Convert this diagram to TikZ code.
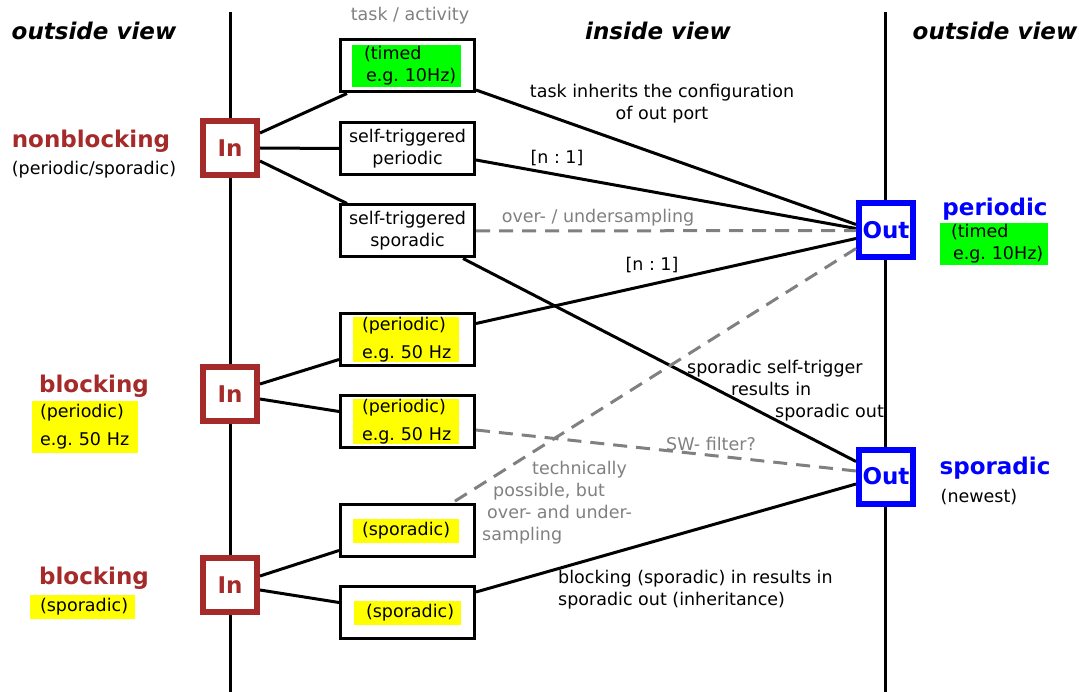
\documentclass[tikz,border=0pt]{standalone}
\usepackage{fontspec}
\setmainfont{DejaVu Sans}
\frenchspacing
\definecolor{inbrown}{RGB}{165,42,42}
\definecolor{outblue}{RGB}{0,0,255}
\definecolor{hlgreen}{RGB}{0,255,0}
\definecolor{hlyellow}{RGB}{255,255,0}
\definecolor{lgray}{RGB}{128,128,128}
\begin{document}
\begin{tikzpicture}[x=1pt,y=-1pt,
  txt/.style={inner sep=0pt, font=\fontsize{17.5}{22}\selectfont},
  gtxt/.style={txt, text=lgray},
  head/.style={inner sep=0pt, font=\fontsize{23}{27}\selectfont\bfseries},
  view/.style={inner sep=0pt, font=\fontsize{23}{27}\selectfont\bfseries\itshape},
  taskbox/.style={draw, line width=3pt, fill=white, minimum width=134pt, minimum height=52pt, inner sep=0pt, txt, align=center},
  portin/.style={draw=inbrown, line width=6pt, fill=white, minimum size=54pt, inner sep=0pt, text=inbrown, font=\fontsize{23}{27}\selectfont\bfseries},
  portout/.style={draw=outblue, line width=6pt, fill=white, minimum size=54pt, inner sep=0pt, text=outblue, font=\fontsize{23}{27}\selectfont\bfseries},
  hl/.style={txt, inner sep=0pt, align=left},
  conn/.style={line width=3pt},
  dconn/.style={line width=3pt, draw=lgray, dash pattern=on 14pt off 9pt},
  axis/.style={line width=3pt}
]
\useasboundingbox (0,0) rectangle (1081,692);
% vertical separators
\coordinate (l1top) at (230,12);
\coordinate (l1bot) at (230,692);
\coordinate (l2top) at (885.5,12);
\coordinate (l2bot) at (885.5,692);
\draw[axis] (l1top) -- (l1bot);
\draw[axis] (l2top) -- (l2bot);

% headers
\node[view] (ovl) at (94,31) {outside view};
\node[view] (ivw) at (658,31) {inside view};
\node[view] (ovr) at (995,31) {outside view};
\node[gtxt] (ta) at (410,16) {task / activity};

% ports
\node[portin] (in1) at (230,148) {In};
\node[portin] (in2) at (230,394) {In};
\node[portin] (in3) at (230,585) {In};
\node[portout] (out1) at (886,230.5) {Out};
\node[portout] (out2) at (886,476.5) {Out};

% task boxes
\node[taskbox] (t1) at (407.5,66) {};
\node[hl, fill=hlgreen, text width=109pt, minimum height=42pt] (t1h) at (406.5,66) {\hspace*{12pt}(timed\\\hspace*{14pt}e.g. 10Hz)};
\node[taskbox] (t2) at (407.5,148.5) {self-triggered\\periodic};
\node[taskbox] (t3) at (407.5,231) {self-triggered\\sporadic};
\node[taskbox] (t4) at (407.5,339.5) {};
\node[hl, fill=hlyellow, text width=106pt, minimum height=45pt] (t4h) at (406,339.5) {\hspace*{9pt}(periodic)\\[6pt]\hspace*{9pt}e.g. 50 Hz};
\node[taskbox] (t5) at (407.5,421.5) {};
\node[hl, fill=hlyellow, text width=106pt, minimum height=45pt] (t5h) at (406,421.5) {\hspace*{9pt}(periodic)\\[6pt]\hspace*{9pt}e.g. 50 Hz};
\node[taskbox] (t6) at (407.5,530.5) {};
\node[hl, fill=hlyellow, text width=106pt, minimum height=24pt] (t6h) at (406,531) {\hspace*{9pt}(sporadic)};
\node[taskbox] (t7) at (407.5,612.5) {};
\node[hl, fill=hlyellow, text width=107pt, minimum height=24pt] (t7h) at (407.5,613) {\hspace*{12pt}(sporadic)};

% left side labels
\node[head, text=inbrown] (nb) at (91,141) {nonblocking};
\node[txt] (nbs) at (94,170) {(periodic/sporadic)};
\node[head, text=inbrown] (b1) at (94,386) {blocking};
\node[hl, fill=hlyellow, text width=106pt, minimum height=52pt] (b1h) at (85,427) {\hspace*{8pt}(periodic)\\[6pt]\hspace*{8pt}e.g. 50 Hz};
\node[head, text=inbrown] (b2) at (94,578) {blocking};
\node[hl, fill=hlyellow, text width=105pt, minimum height=24pt] (b2h) at (82.5,607) {\hspace*{10pt}(sporadic)};

% right side labels
\node[head, text=outblue] (per) at (995,209) {periodic};
\node[hl, fill=hlgreen, text width=108pt, minimum height=42pt] (perh) at (994,244) {\hspace*{11pt}(timed\\\hspace*{13pt}e.g. 10Hz)};
\node[head, text=outblue] (spo) at (995,468) {sporadic};
\node[txt] (new) at (979,497) {(newest)};

% connectors In -> tasks
\draw[conn] ([yshift=15pt]in1.east) -- ([xshift=8pt]t1.south west);
\draw[conn] (in1.east) -- (t2.west);
\draw[conn] ([yshift=-13pt]in1.east) -- ([xshift=8pt]t3.north west);
\draw[conn] ([yshift=10pt]in2.east) -- ([yshift=-20pt]t4.west);
\draw[conn] ([yshift=-5pt]in2.east) -- ([yshift=10pt]t5.west);
\draw[conn] ([yshift=9pt]in3.east) -- ([yshift=-20pt]t6.west);
\draw[conn] ([yshift=-5pt]in3.east) -- ([yshift=10pt]t7.west);

% connectors tasks -> Out
\draw[conn] ([yshift=-24pt]t1.east) -- ([yshift=6pt]out1.west);
\draw[conn] ([yshift=-11.5pt]t2.east) -- ([yshift=2pt]out1.west);
\draw[dconn] (t3.east) -- (out1.west);
\draw[conn] ([xshift=55.5pt]t3.south) -- ([yshift=15pt]out2.west);
\draw[conn] ([yshift=16pt]t4.east) -- ([yshift=-8pt]out1.west);
\draw[dconn] ([yshift=-18pt]out1.west) -- ([xshift=44.5pt]t6.north);
\draw[dconn] ([yshift=-8.5pt]t5.east) -- ([yshift=5.5pt]out2.west);
\draw[conn] ([yshift=20.5pt]t7.east) -- ([yshift=-7.5pt]out2.west);

% connector labels
\node[txt, align=center] (lab1) at (662,104) {task inherits the configuration\\of out port};
\node[txt] (lab2) at (557,158) {[n : 1]};
\node[gtxt] (lab3) at (598,218) {over- / undersampling};
\node[txt] (lab4) at (652,265) {[n : 1]};
\node[txt, anchor=west, align=left] (lab5) at (687,391) {sporadic self-trigger\\\hspace*{44pt}results in\\\hspace*{88pt}sporadic out};
\node[gtxt] (lab6) at (711,444) {SW- filter?};
\node[gtxt, anchor=west, align=left] (lab7) at (482,503) {\hspace*{50pt}technically\\\hspace*{11pt}possible, but\\\hspace*{5pt}over- and under-\\sampling};
\node[txt, anchor=west, align=left] (lab8) at (558,590) {blocking (sporadic) in results in\\sporadic out (inheritance)};
\end{tikzpicture}
\end{document}
